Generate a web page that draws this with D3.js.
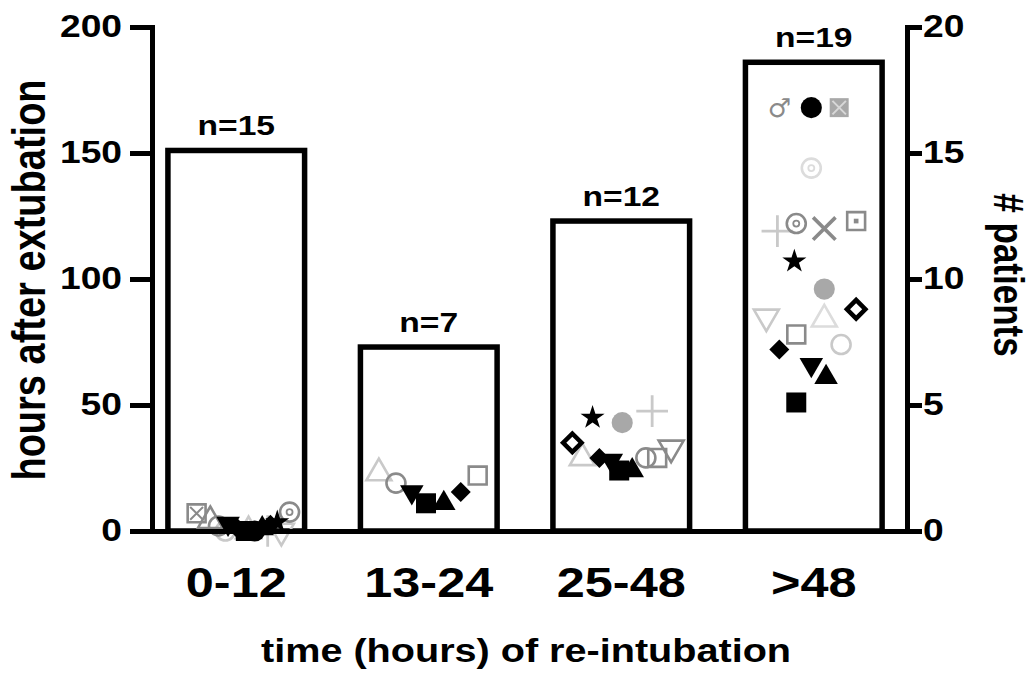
<!DOCTYPE html>
<html>
<head>
<meta charset="utf-8">
<script src="https://cdn.jsdelivr.net/npm/d3@7"></script>
<style>
  body { margin: 0; background: #fff; }
  text { font-family: "Liberation Sans", Arial, sans-serif; font-weight: bold; fill: #000; }
</style>
</head>
<body>
<div id="chart"></div>
<script>
// categories and bars (bar height read on the right "# patients" axis)
const categories = ["0-12", "13-24", "25-48", ">48"];
const barPatients = [15.1, 7.3, 12.3, 18.6];
const nLabels = ["n=15", "n=7", "n=12", "n=19"];
const hoursTicks = [0, 50, 100, 150, 200];
const patientTicks = [0, 5, 10, 15, 20];

// individual patients: hours after extubation, jitter inside the bar (fraction of bar width), marker, tone
const pointCat = [
  "0-12","0-12","0-12","0-12","0-12","0-12","0-12","0-12","0-12","0-12","0-12","0-12","0-12","0-12","0-12",
  "13-24","13-24","13-24","13-24","13-24","13-24","13-24",
  "25-48","25-48","25-48","25-48","25-48","25-48","25-48","25-48","25-48","25-48","25-48","25-48",
  ">48",">48",">48",">48",">48",">48",">48",">48",">48",">48",">48",">48",">48",">48",">48",">48",">48",">48",">48"
];
const pointHours = [
  0, 0, 0, 0, 7, 4, 2, 3, 1.5, 0, 0, 1, 2.5, 3.5, 7.5,
  23, 19, 15.5, 11, 11, 15.5, 22,
  45, 43, 47.6, 35, 29, 29, 28, 24, 24, 29, 29, 33,
  168, 168, 168, 144, 119, 122, 120, 123, 107, 96, 88, 85, 84, 78, 72, 74, 66, 61, 51
];
const pointJitter = [
  -0.08, 0.09, 0.23, 0.33, -0.29, -0.19, -0.13, -0.06, 0.0, 0.07, 0.135, 0.19, 0.25, 0.3, 0.39,
  -0.365, -0.24, -0.124, -0.02, 0.11, 0.234, 0.358,
  -0.21, 0.007, 0.226, -0.358, -0.285, -0.16, -0.073, -0.015, 0.08, 0.18, 0.263, 0.365,
  -0.252, -0.018, 0.186, -0.018, -0.266, -0.128, 0.077, 0.31, -0.142, 0.077, 0.31, -0.347, 0.077, -0.128, -0.252, 0.2, -0.018, 0.09, -0.128
];
const pointShape = [
  "circleOpen","triangleOpen","plus","triDownOpen","squareX","triangleOpen","circleOpen","triDown","diamond","square","circle","triangle","diamond","star","circleDot",
  "triangleOpen","circleOpen","triDown","square","triangle","diamond","squareOpen",
  "star","circle","plus","diamondOpen","triangleOpen","diamond","triDown","square","triangle","circleOpen","squareOpen","triDownOpen",
  "male","circle","squarePat","circleDot","plus","circleDot","times","squareDot","star","circle","diamondOpen","triDownOpen","triangleOpen","squareOpen","diamond","circleOpen","triDown","triangle","square"
];
const pointTone = [
  "light","light","light","light","mid","mid","mid","dark","dark","dark","dark","dark","dark","dark","mid",
  "light","mid","dark","dark","dark","dark","mid",
  "dark","soft","light","dark","light","dark","dark","dark","dark","mid","mid","mid",
  "mid","dark","soft","faint","light","mid","mid","mid","dark","soft","dark","light","faint","mid","dark","light","dark","dark","dark"
];

const width = 1034, height = 674;
const stretch = 1.2; // the reference text is drawn wide

const svg = d3.select("#chart")
  .append("svg")
    .attr("width", width)
    .attr("height", height);

const x = d3.scaleBand()
  .domain(categories)
  .range([152, 907])
  .paddingInner(0.29)
  .paddingOuter(0.106)
  .align(0.39);

const yHours = d3.scaleLinear().domain([0, 200]).range([531, 27]);
const yPatients = d3.scaleLinear().domain([0, 20]).range([531, 27]);

const tone = d3.scaleOrdinal()
  .domain(["dark", "mid", "soft", "light", "faint"])
  .range(["#000000", "#8a8a8a", "#a8a8a8", "#c9c9c9", "#dcdcdc"]);

// bars
svg.selectAll("rect.bar")
  .data(categories)
  .join("rect")
    .attr("class", "bar")
    .attr("x", d => x(d))
    .attr("width", x.bandwidth())
    .attr("y", (d, i) => yPatients(barPatients[i]))
    .attr("height", (d, i) => yPatients(0) - yPatients(barPatients[i]))
    .attr("fill", "#fff")
    .attr("stroke", "#000")
    .attr("stroke-width", 5.5);

// n labels
svg.selectAll("text.nlab")
  .data(categories)
  .join("text")
    .attr("class", "nlab")
    .attr("text-anchor", "middle")
    .attr("font-size", 28)
    .attr("transform", (d, i) => `translate(${x(d) + x.bandwidth() / 2}, ${yPatients(barPatients[i]) - 15}) scale(${stretch},1)`)
    .text((d, i) => nLabels[i]);

// markers
const sym = (type, size) => d3.symbol().type(type).size(size)();
const plusType = d3.symbolPlus || d3.symbolCross;
const timesType = d3.symbolTimes || d3.symbolCross;

function drawMarker(g, shape, c) {
  const open = (p, w) => g.append("path").attr("d", p).attr("fill", "none").attr("stroke", c).attr("stroke-width", w);
  const fill = (p) => g.append("path").attr("d", p).attr("fill", c);
  switch (shape) {
    case "square": fill(sym(d3.symbolSquare, 400)); break;
    case "squareOpen": open(sym(d3.symbolSquare, 320), 2.6); break;
    case "squareDot": open(sym(d3.symbolSquare, 320), 2.6); fill(sym(d3.symbolSquare, 22)); break;
    case "squareX": open(sym(d3.symbolSquare, 320), 2.6); open(sym(timesType, 110), 2); break;
    case "squarePat":
      fill(sym(d3.symbolSquare, 360));
      g.append("path").attr("d", sym(timesType, 120)).attr("fill", "none").attr("stroke", "#d8d8d8").attr("stroke-width", 2);
      break;
    case "circle": fill(sym(d3.symbolCircle, 350)); break;
    case "circleOpen": g.append("circle").attr("r", 9.5).attr("fill", "none").attr("stroke", c).attr("stroke-width", 2.6); break;
    case "circleDot":
      g.append("circle").attr("r", 9.5).attr("fill", "none").attr("stroke", c).attr("stroke-width", 2.6);
      g.append("circle").attr("r", 3).attr("fill", "none").attr("stroke", c).attr("stroke-width", 1.8);
      break;
    case "triangle": fill(sym(d3.symbolTriangle, 240)); break;
    case "triangleOpen": open(sym(d3.symbolTriangle, 270), 2.6); break;
    case "triDown": fill(sym(d3.symbolTriangle, 240)).attr("transform", "rotate(180)"); break;
    case "triDownOpen": open(sym(d3.symbolTriangle, 270), 2.6).attr("transform", "rotate(180)"); break;
    case "diamond": fill(sym(d3.symbolSquare, 200)).attr("transform", "rotate(45)"); break;
    case "diamondOpen": open(sym(d3.symbolSquare, 170), 4.5).attr("transform", "rotate(45)"); break;
    case "star": fill(sym(d3.symbolStar, 180)); break;
    case "plus": open(sym(plusType, 330), 2.8); break;
    case "times": open(sym(timesType, 330), 3.6); break;
    case "male":
      g.append("text")
        .attr("text-anchor", "middle")
        .attr("dy", "0.35em")
        .style("font-family", "DejaVu Sans")
        .style("font-weight", "bold")
        .style("fill", c)
        .attr("font-size", 26)
        .text("\u2642");
      break;
  }
}

const toneOrder = { faint: 0, light: 1, soft: 2, mid: 3, dark: 4 };
const points = pointCat.map((c, i) => i).sort((a, b) => toneOrder[pointTone[a]] - toneOrder[pointTone[b]]);

points.forEach(i => {
  const cx = x(pointCat[i]) + x.bandwidth() / 2 + pointJitter[i] * x.bandwidth();
  const cy = yHours(pointHours[i]);
  const g = svg.append("g").attr("transform", `translate(${cx},${cy})`);
  drawMarker(g, pointShape[i], tone(pointTone[i]));
});

// left axis (hours)
const leftAxis = svg.append("g")
  .attr("transform", "translate(152,0)")
  .call(d3.axisLeft(yHours).tickValues(hoursTicks).tickSize(22).tickSizeOuter(0));
leftAxis.select(".domain").attr("stroke-width", 5).attr("stroke-linecap", "square");
leftAxis.selectAll(".tick line").attr("stroke-width", 5);
leftAxis.selectAll(".tick text")
  .attr("x", -30 / stretch)
  .attr("transform", `scale(${stretch},1)`)
  .style("font-size", "31px")
  .style("font-family", "Liberation Sans, Arial, sans-serif")
  .style("font-weight", "bold");

// right axis (patients)
const rightAxis = svg.append("g")
  .attr("transform", "translate(907,0)")
  .call(d3.axisRight(yPatients).tickValues(patientTicks).tickSize(15).tickSizeOuter(0));
rightAxis.select(".domain").attr("stroke-width", 5).attr("stroke-linecap", "square");
rightAxis.selectAll(".tick line").attr("stroke-width", 5);
rightAxis.selectAll(".tick text")
  .attr("x", 16 / stretch)
  .attr("transform", `scale(${stretch},1)`)
  .style("font-size", "31px")
  .style("font-family", "Liberation Sans, Arial, sans-serif")
  .style("font-weight", "bold");

// bottom axis: baseline + category labels
const bottomAxis = svg.append("g")
  .attr("transform", `translate(0,${yHours(0)})`)
  .call(d3.axisBottom(x).tickSize(0).tickSizeOuter(0));
bottomAxis.select(".domain").attr("stroke-width", 5);
bottomAxis.selectAll(".tick text")
  .attr("y", 66)
  .attr("dy", 0)
  .attr("transform", `scale(${stretch},1)`)
  .style("font-size", "42px")
  .style("font-family", "Liberation Sans, Arial, sans-serif")
  .style("font-weight", "bold");

// axis titles
svg.append("text")
  .attr("text-anchor", "middle")
  .attr("font-size", 33)
  .attr("transform", `translate(526,662) scale(${stretch},1)`)
  .text("time (hours) of re-intubation");

svg.append("text")
  .attr("text-anchor", "middle")
  .attr("font-size", 38)
  .attr("transform", `translate(45,280) scale(${stretch},1) rotate(-90)`)
  .text("hours after extubation");

svg.append("text")
  .attr("text-anchor", "middle")
  .attr("font-size", 35)
  .attr("transform", `translate(994,275) scale(${stretch},1) rotate(90)`)
  .text("# patients");
</script>
</body>
</html>
